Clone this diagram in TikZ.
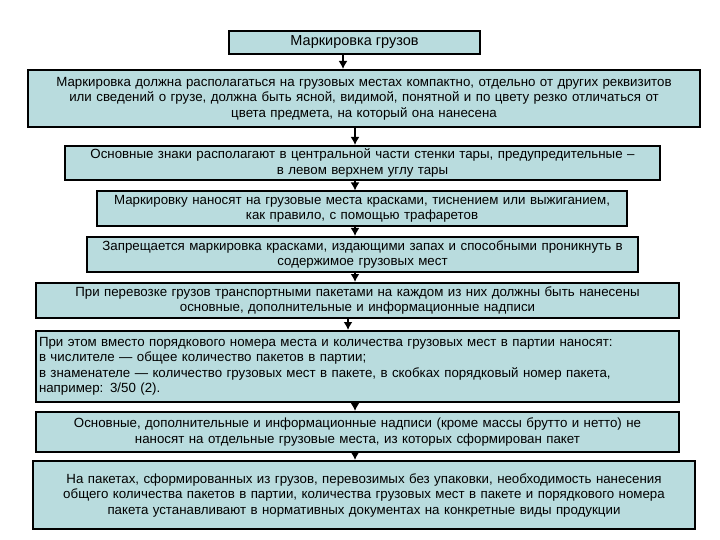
\documentclass[tikz,border=0pt]{standalone}
\usepackage{fontspec}
\setmainfont{Liberation Sans}
\begin{document}
\begin{tikzpicture}[x=1pt,y=-1pt,
  bx/.style={draw=black,line width=2pt,fill=boxfill,inner sep=1pt,font=\fontsize{13.3}{15.5}\selectfont},
  arr/.style={line width=2pt,-{Latex[length=8pt,width=9pt]}}]
\usetikzlibrary{arrows.meta}
\definecolor{boxfill}{HTML}{B9DCDE}
\useasboundingbox (0,0) rectangle (720,540);
\node[bx,minimum width=251,minimum height=23,font=\fontsize{14.5}{15}\selectfont] (t) at (354.5,42.5) {Маркировка грузов};
\node[bx,minimum width=656,minimum height=57,text width=670,align=center] (b1) at (364,98.5) {Маркировка должна располагаться на грузовых местах компактно, отдельно от других реквизитов\\или сведений о грузе, должна быть ясной, видимой, понятной и по цвету резко отличаться от\\цвета предмета, на который она нанесена};
\node[bx,minimum width=595,minimum height=34,text width=590,align=center] (b2) at (362.5,163) {Основные знаки располагают в центральной части стенки тары, предупредительные –\\в левом верхнем углу тары};
\node[bx,minimum width=530,minimum height=35,text width=525,align=center] (b3) at (362,209) {Маркировку наносят на грузовые места красками, тиснением или выжиганием,\\как правило, с помощью трафаретов};
\node[bx,minimum width=551,minimum height=35,text width=545,align=center] (b4) at (362.5,254.5) {Запрещается маркировка красками, издающими запах и способными проникнуть в\\содержимое грузовых мест};
\node[bx,minimum width=643,minimum height=35,text width=638,align=center] (b5) at (357.5,300.5) {При перевозке грузов транспортными пакетами на каждом из них должны быть нанесены\\основные, дополнительные и информационные надписи};
\node[bx,minimum width=643,minimum height=71,text width=637,align=left] (b6) at (357.5,366.5) {При этом вместо порядкового номера места и количества грузовых мест в партии наносят:\\в числителе — общее количество пакетов в партии;\\в знаменателе — количество грузовых мест в пакете, в скобках порядковый номер пакета,\\например: 3/50 (2).};
\node[bx,minimum width=643,minimum height=40,text width=638,align=center] (b7) at (357.5,432) {Основные, дополнительные и информационные надписи (кроме массы брутто и нетто) не\\наносят на отдельные грузовые места, из которых сформирован пакет};
\node[bx,minimum width=656,minimum height=68,text width=660,align=center] (b8) at (364,495) {На пакетах, сформированных из грузов, перевозимых без упаковки, необходимость нанесения\\общего количества пакетов в партии, количества грузовых мест в пакете и порядкового номера\\пакета устанавливают в нормативных документах на конкретные виды продукции};
\coordinate (xa) at (343,0);
\coordinate (xb) at (355,0);
\coordinate (xc) at (348,0);
\draw[arr] (t.south -| xa) -- (b1.north -| xa);
\draw[arr] (b1.south -| xb) -- (b2.north -| xb);
\draw[arr] (b2.south -| xb) -- (b3.north -| xb);
\draw[arr] (b3.south -| xb) -- (b4.north -| xb);
\draw[arr] (b4.south -| xb) -- (b5.north -| xb);
\draw[arr] (b5.south -| xc) -- (b6.north -| xc);
\draw[arr] (b6.south -| xb) -- (b7.north -| xb);
\draw[arr] (b7.south -| xb) -- (b8.north -| xb);
\end{tikzpicture}
\end{document}
